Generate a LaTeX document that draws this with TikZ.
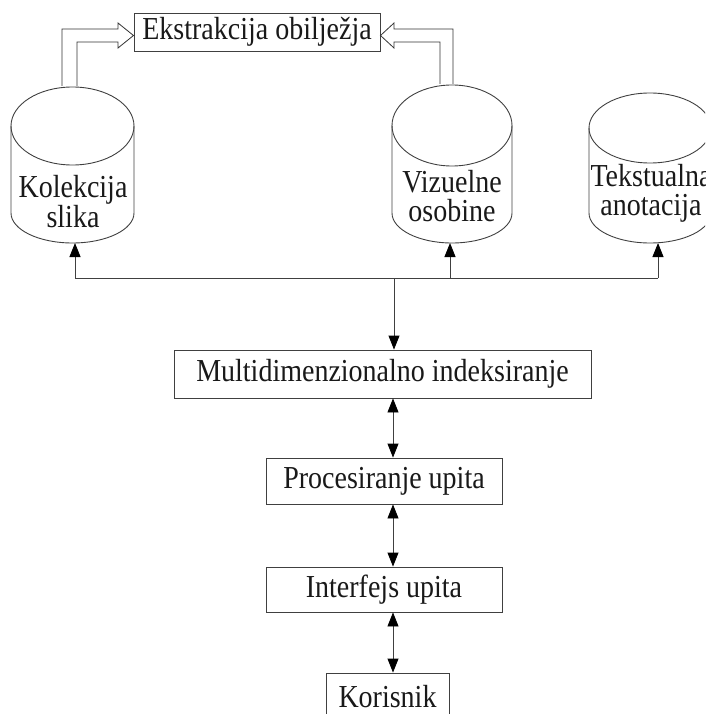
\documentclass[tikz,border=0pt]{standalone}
\usepackage{fontspec}
\setmainfont[FakeStretch=0.875]{Liberation Serif}
\usetikzlibrary{arrows.meta}
\begin{document}
\begin{tikzpicture}[x=1pt,y=-1pt,
  ln/.style={draw=black!75, line width=0.9pt},
  box/.style={ln, rectangle, inner sep=0pt, font=\fontsize{32}{29}\selectfont, text=black!90},
  lbl/.style={align=center, font=\fontsize{32}{29}\selectfont, inner sep=0pt, text=black!90},
  tip/.style={-{Triangle[length=14pt,width=11pt,color=black]}},
  dtip/.style={{Triangle[length=14pt,width=11pt,color=black]}-{Triangle[length=14pt,width=11pt,color=black]}},
  hollow/.style={draw=black!80, line width=0.8pt, fill=white, line join=miter},
]
\useasboundingbox (0,0) rectangle (705,714);
\clip (0,0) rectangle (705,714);

% boxes
\node[box, minimum width=246pt, minimum height=38pt] (ekstr) at (257,32) {Ekstrakcija obilježja};
\node[box, minimum width=417pt, minimum height=48pt] (multi) at (382.5,374) {Multidimenzionalno indeksiranje};
\node[box, minimum width=236pt, minimum height=46pt] (proc) at (384,481) {Procesiranje upita};
\node[box, minimum width=236pt, minimum height=45pt] (intf) at (384,589.5) {Interfejs upita};
\node[box, minimum width=123pt, minimum height=48pt] (kor) at (387.5,697) {Korisnik};

% cylinders
\draw[ln] (72.5,126) ellipse [x radius=61.5pt, y radius=39pt];
\draw[ln] (11,126) -- (11,213) arc[start angle=180, end angle=360, x radius=61.5pt, y radius=30pt] -- (134,126);
\draw[ln] (452,125.5) ellipse [x radius=60pt, y radius=40.5pt];
\draw[ln] (392,125.5) -- (392,213) arc[start angle=180, end angle=360, x radius=60pt, y radius=30pt] -- (512,125.5);
\draw[ln] (650,128) ellipse [x radius=61pt, y radius=35pt];
\draw[ln] (589,128) -- (589,213) arc[start angle=180, end angle=360, x radius=61pt, y radius=30pt] -- (711,128);

\node[lbl] (kol) at (73,202) {Kolekcija\\slika};
\node[lbl] (viz) at (452,196) {Vizuelne\\osobine};
\node[lbl] (tek) at (651,193) {Tekstualna\\anotacija};

\coordinate (kolB) at (75,243);
\coordinate (vizB) at (450,243);
\coordinate (tekB) at (658,243);
\coordinate (jL) at (75,278);
\coordinate (jV) at (450,278);
\coordinate (jR) at (658,278);
\coordinate (jM) at (394,278);
\coordinate (ax) at (393,0);

% hollow arrows
\draw[hollow] (62,86) -- (62,29) -- (118,29) -- (118,23) -- (133.5,35.5) -- (118,48) -- (118,42) -- (77,42) -- (77,86);
\draw[hollow] (453,84) -- (453,29) -- (394,29) -- (394,23) -- (380.5,35.5) -- (394,48) -- (394,42) -- (440,42) -- (440,84);

% connectors
\draw[ln] (jL) -- (jR);
\draw[ln,tip] (jL) -- (kolB);
\draw[ln,tip] (jV) -- (vizB);
\draw[ln,tip] (jR) -- (tekB);
\draw[ln,tip] (jM) -- (multi.north -| jM);
\draw[ln,dtip] (multi.south -| ax) -- (proc.north -| ax);
\draw[ln,dtip] (proc.south -| ax) -- (intf.north -| ax);
\draw[ln,dtip] (intf.south -| ax) -- (kor.north -| ax);
\end{tikzpicture}
\end{document}
